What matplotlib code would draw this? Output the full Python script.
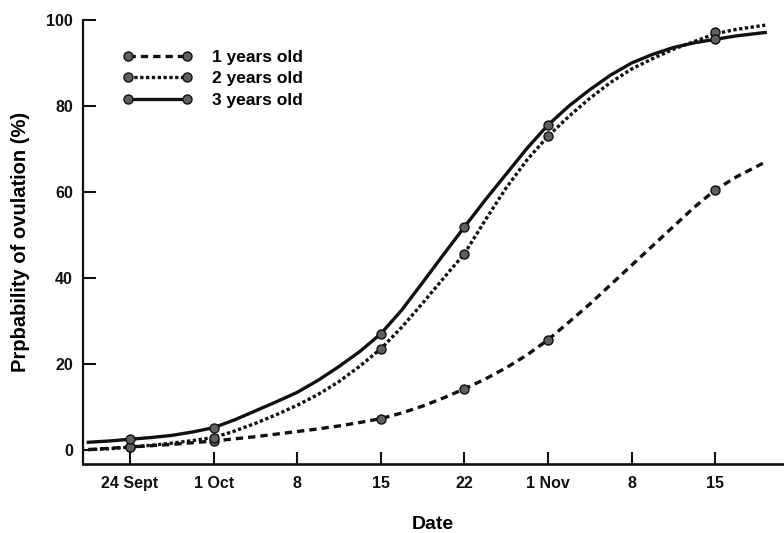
import numpy as np
import matplotlib
matplotlib.use("Agg")
import matplotlib.pyplot as plt
from matplotlib.lines import Line2D

plt.rcParams["font.family"] = ["Liberation Sans", "DejaVu Sans"]
plt.rcParams["font.weight"] = "bold"

# x positions are in "tick steps" (one step per labelled tick)
tick_labels = ["24 Sept", "1 Oct", "8", "15", "22", "1 Nov", "8", "15"]
curve_x = [-0.5, -0.25, 0, 0.25, 0.5, 0.75, 1, 1.25, 1.5, 1.75, 2, 2.25, 2.5,
           2.75, 3, 3.25, 3.5, 3.75, 4, 4.25, 4.5, 4.75, 5, 5.25, 5.5, 5.75,
           6, 6.25, 6.5, 6.75, 7, 7.25, 7.6]

one_year = [0.2, 0.5, 0.8, 1.1, 1.4, 1.8, 2.2, 2.7, 3.2, 3.8, 4.4, 5.0, 5.7,
            6.5, 7.4, 8.7, 10.3, 12.2, 14.3, 16.6, 19.2, 22.2, 25.7, 29.8,
            34.0, 38.5, 43.0, 47.5, 52.0, 56.5, 60.5, 63.5, 67.0]
two_year = [0.2, 0.4, 0.8, 1.2, 1.7, 2.3, 3.0, 4.5, 6.3, 8.3, 10.5, 13.0, 16.0,
            19.6, 23.6, 28.6, 34.2, 40.0, 45.7, 53.5, 61.0, 67.5, 73.0, 77.6,
            81.8, 85.5, 88.6, 91.0, 93.2, 95.0, 96.8, 97.8, 98.8]
three_year = [1.9, 2.2, 2.6, 3.0, 3.5, 4.3, 5.3, 7.1, 9.2, 11.3, 13.5, 16.3,
              19.5, 23.0, 27.1, 32.6, 39.0, 45.5, 51.9, 58.2, 64.2, 70.2, 75.6,
              80.0, 83.8, 87.2, 90.0, 92.0, 93.6, 94.7, 95.5, 96.3, 97.1]

marker_x = [0, 1, 3, 4, 5, 7]
one_year_pts = [0.8, 2.2, 7.4, 14.3, 25.7, 60.5]
two_year_pts = [0.8, 3.0, 23.6, 45.7, 73.0, 97.1]
three_year_pts = [2.7, 5.3, 27.1, 51.9, 75.6, 95.5]

series = [
    ("1 years old", one_year, one_year_pts, (2.2, 1.5)),
    ("2 years old", two_year, two_year_pts, (1.0, 0.75)),
    ("3 years old", three_year, three_year_pts, None),
]

fig = plt.figure(figsize=(7.84, 5.33), dpi=100)
ax = fig.add_axes([0.1055, 0.1295, 0.893, 0.833])

ink = "#111111"
mk = dict(marker="o", markersize=6.5, markerfacecolor="#5f5f5f",
          markeredgecolor=ink, markeredgewidth=1.0)

handles = []
for label, curve, pts, dashes in series:
    line, = ax.plot(curve_x, curve, color=ink, linewidth=2.4, zorder=2,
                    solid_joinstyle="round")
    if dashes is not None:
        line.set_dashes(dashes)
    ax.plot(marker_x, pts, linestyle="none", zorder=3, **mk)
    h = Line2D([0, 1], [0, 0], color=ink, linewidth=2.4, **mk)
    if dashes is not None:
        h.set_dashes(dashes)
    handles.append(h)

ax.set_xlim(-0.566, 7.81)
ax.set_ylim(-3.14, 100)
ax.set_xticks(range(len(tick_labels)))
ax.set_xticklabels(tick_labels)
ax.set_yticks([0, 20, 40, 60, 80, 100])

for side in ["top", "right"]:
    ax.spines[side].set_visible(False)
ax.spines["left"].set_linewidth(1.6)
ax.spines["bottom"].set_linewidth(1.9)
ax.spines["left"].set_color(ink)
ax.spines["bottom"].set_color(ink)

ax.tick_params(axis="both", direction="in", length=9, width=1.5, colors=ink,
               labelsize=11.5)
ax.tick_params(axis="x", pad=9)
ax.tick_params(axis="y", pad=7)

ax.set_xlabel("Date", fontsize=14, fontweight="bold", labelpad=18)
ax.set_ylabel("Prpbability of ovulation (%)", fontsize=14.5, fontweight="bold",
              labelpad=12)

leg = ax.legend(handles, [s[0] for s in series], loc="upper left",
                bbox_to_anchor=(123 / 784, 1 - 50 / 533),
                bbox_transform=fig.transFigure, frameon=False, numpoints=2,
                handlelength=4.0, handletextpad=1.1, labelspacing=0.35,
                borderpad=0, borderaxespad=0, prop={"size": 12.5, "weight": "bold"})

fig.savefig("out.png", dpi=100)
